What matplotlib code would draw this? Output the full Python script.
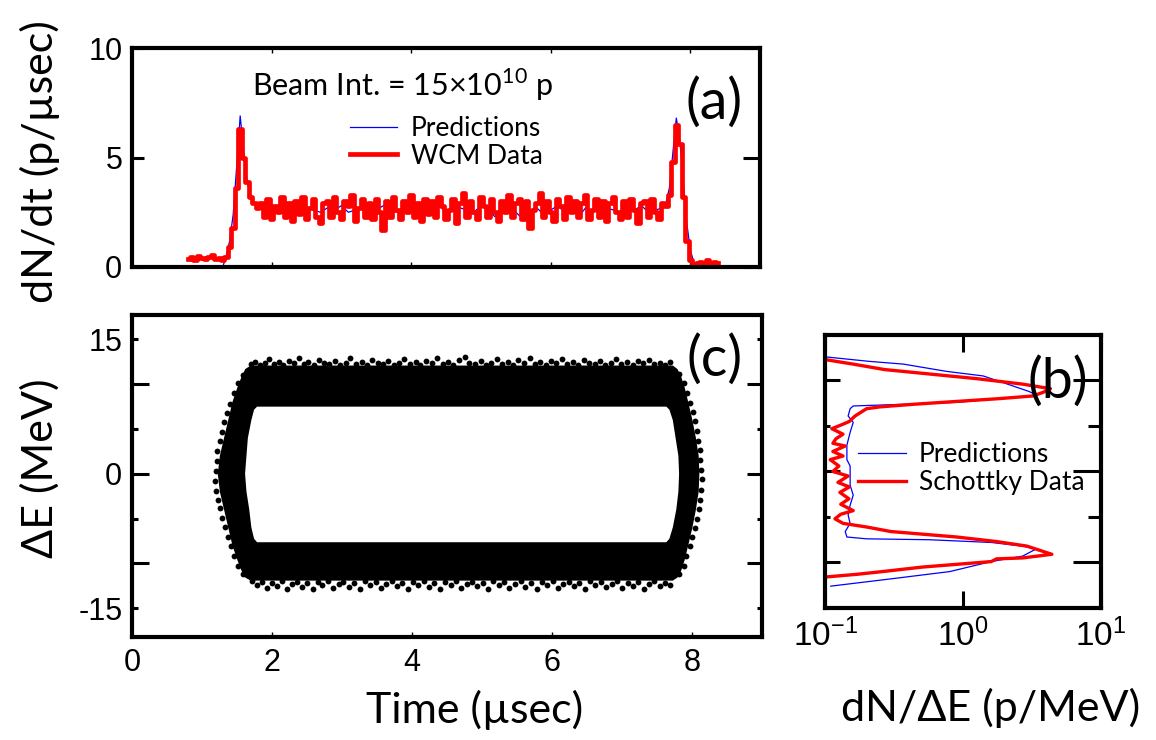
import numpy as np
import matplotlib
matplotlib.use('Agg')
import matplotlib.pyplot as plt
from matplotlib.path import Path
from matplotlib.patches import PathPatch

plt.rcParams['font.family'] = ['Liberation Sans', 'DejaVu Sans']
LBL = ['Lato', 'DejaVu Sans']

# ---- (a) line density, WCM data sampled every 0.05 usec from 0.80 usec
wcm_t0 = 0.80
wcm_dt = 0.05
wcm_rise = [0.35, 0.45, 0.30, 0.50, 0.40, 0.35, 0.45, 0.55, 0.35, 0.40, 0.30, 0.45,
            0.9, 1.8, 3.6, 6.3, 5.0, 3.9, 3.2, 2.9, 2.7]
wcm_flat = [2.9, 2.3, 3.1, 2.2, 2.8, 2.5, 3.2, 2.3, 2.9, 2.1,
            3.0, 2.4, 3.2, 2.2, 2.7, 3.1, 2.3, 2.0, 2.9, 3.0,
            2.3, 3.2, 2.5, 2.2, 3.0, 2.8, 3.3, 2.1, 2.7, 3.1,
            2.3, 2.9, 2.2, 3.1, 2.5, 1.7, 3.0, 2.3, 3.2, 2.6,
            2.2, 3.0, 2.5, 3.3, 2.3, 2.9, 2.1, 3.1, 2.4, 3.0,
            2.3, 3.2, 2.8, 2.2, 2.6, 3.1, 2.0, 2.9, 3.4, 2.3,
            3.0, 2.5, 2.2, 3.2, 2.8, 2.3, 3.1, 2.5, 2.1, 3.0,
            2.5, 3.3, 2.3, 2.9, 3.1, 2.2, 3.0, 1.8, 2.6, 2.9,
            3.4, 2.3, 3.0, 2.5, 2.1, 3.1, 2.8, 2.2, 3.2, 2.5,
            3.0, 2.3, 2.9, 3.3, 2.2, 2.6, 3.1, 2.3, 3.0, 2.1,
            2.9, 3.2, 2.5, 2.2, 3.0, 2.3, 3.1, 2.6, 2.0, 2.9,
            3.0, 2.3, 3.1, 2.5, 2.2, 2.9]
wcm_fall = [2.8, 3.3, 4.8, 6.5, 5.6, 3.2, 1.2, 0.3, 0.15, 0.2, 0.25, 0.15,
            0.3, 0.2, 0.25, 0.2]
wcm_v = np.array(wcm_rise + wcm_flat + wcm_fall)
wcm_t = wcm_t0 + wcm_dt * np.arange(len(wcm_v))

# predictions: explicit edges, plateau every 0.1 usec
pred_rise_t = [1.30, 1.35, 1.40, 1.45, 1.50, 1.55, 1.60, 1.65, 1.70, 1.75, 1.80]
pred_rise_v = [0.0, 0.5, 1.2, 2.4, 4.6, 6.9, 5.3, 3.9, 3.2, 2.9, 2.7]
pred_flat_v = [2.7, 2.6, 2.5, 2.8, 2.6, 2.4, 2.7, 2.6, 2.5, 2.7,
               2.6, 2.8, 2.5, 2.6, 2.7, 2.4, 2.6, 2.8, 2.6, 2.5,
               2.7, 2.6, 2.4, 2.7, 2.6, 2.8, 2.5, 2.6, 2.7, 2.6,
               2.5, 2.8, 2.6, 2.3, 2.7, 2.6, 2.5, 2.2, 2.6, 2.7,
               2.4, 2.6, 2.8, 2.5, 2.6, 2.3, 2.7, 2.6, 2.5, 2.7,
               2.6, 2.4, 2.7, 2.6, 2.8, 2.5, 2.6]
pred_fall_t = [7.60, 7.65, 7.70, 7.75, 7.80, 7.85, 7.90, 7.95, 8.00, 8.05, 8.10]
pred_fall_v = [2.7, 2.9, 3.6, 5.2, 6.8, 5.8, 3.9, 2.0, 0.8, 0.2, 0.0]
pred_flat_t = 1.9 + 0.1 * np.arange(len(pred_flat_v))
pred_t = np.concatenate([pred_rise_t, pred_flat_t, pred_fall_t])
pred_v = np.concatenate([pred_rise_v, pred_flat_v, pred_fall_v])

# ---- (c) longitudinal phase space, particle ring (time usec, dE MeV)
outer_t = [1.70, 7.72, 7.78, 7.83, 7.88, 7.93, 7.99, 8.04, 8.08, 8.09, 8.08, 8.04, 7.99,
           7.93, 7.88, 7.83, 7.78, 7.72, 1.70, 1.63, 1.58, 1.52, 1.45, 1.39, 1.33, 1.27,
           1.24, 1.27, 1.33, 1.39, 1.45, 1.52, 1.58, 1.63]
outer_E = [11.95, 11.95, 11.6, 10.8, 9.6, 8.0, 6.0, 4.0, 2.0, 0.0, -2.0, -4.0, -6.0,
           -8.0, -9.6, -10.8, -11.5, -11.8, -11.8, -11.5, -10.8, -9.6, -8.0, -6.0, -4.0, -2.0,
           0.0, 2.0, 4.0, 6.0, 8.0, 9.6, 10.8, 11.6]
inner_t = [1.78, 7.64, 7.69, 7.74, 7.78, 7.82, 7.83, 7.82, 7.79, 7.74, 7.69, 7.64,
           1.78, 1.73, 1.69, 1.66, 1.62, 1.60, 1.62, 1.64, 1.69, 1.73]
inner_E = [7.6, 7.6, 7.2, 6.0, 4.0, 2.0, 0.0, -2.0, -4.0, -6.0, -7.3, -7.75,
           -7.75, -7.3, -6.0, -4.0, -2.0, 0.0, 2.0, 4.0, 6.0, 7.2]
# stray particles outside the dense band
top_t = [1.70, 1.76, 1.83, 1.90, 1.96, 2.03, 2.10, 2.16, 2.24, 2.31, 2.38, 2.45, 2.52,
         2.60, 2.67, 2.74, 2.82, 2.90, 2.97, 3.05, 3.12, 3.20, 3.28, 3.35, 3.43, 3.51,
         3.58, 3.66, 3.74, 3.81, 3.89, 3.97, 4.05, 4.12, 4.20, 4.28, 4.36, 4.44, 4.51,
         4.59, 4.67, 4.75, 4.82, 4.90, 4.98, 5.06, 5.13, 5.21, 5.29, 5.37, 5.44, 5.52,
         5.60, 5.68, 5.75, 5.83, 5.91, 5.99, 6.06, 6.14, 6.22, 6.30, 6.37, 6.45, 6.53,
         6.61, 6.68, 6.76, 6.84, 6.92, 6.99, 7.07, 7.15, 7.23, 7.30, 7.38, 7.46, 7.54,
         7.61, 7.68]
top_E = [12.2, 12.5, 12.1, 12.4, 12.8, 12.2, 12.5, 12.1, 12.6, 12.3, 12.9, 12.2, 12.5,
         12.1, 12.7, 12.3, 12.2, 12.6, 12.1, 12.4, 12.9, 12.2, 12.5, 12.1, 12.7, 12.3,
         12.2, 12.6, 12.1, 12.4, 12.8, 12.2, 12.5, 12.1, 12.6, 12.3, 12.9, 12.2, 12.5,
         12.1, 12.7, 13.0, 12.3, 12.2, 12.6, 12.1, 12.4, 12.8, 12.2, 12.5, 12.1, 12.7,
         12.3, 12.9, 12.2, 12.5, 12.1, 12.6, 12.3, 12.8, 12.2, 12.5, 12.1, 12.7, 12.3,
         12.2, 12.6, 12.1, 12.4, 12.8, 12.2, 12.5, 12.1, 12.6, 12.3, 12.7, 12.2, 12.4,
         12.1, 12.5]
bot_t = [1.72, 1.79, 1.86, 1.93, 2.00, 2.07, 2.14, 2.21, 2.29, 2.36, 2.43, 2.50, 2.58,
         2.65, 2.72, 2.80, 2.87, 2.95, 3.02, 3.10, 3.17, 3.25, 3.33, 3.40, 3.48, 3.55,
         3.63, 3.71, 3.78, 3.86, 3.94, 4.01, 4.09, 4.17, 4.24, 4.32, 4.40, 4.47, 4.55,
         4.63, 4.70, 4.78, 4.86, 4.93, 5.01, 5.09, 5.16, 5.24, 5.32, 5.39, 5.47, 5.55,
         5.62, 5.70, 5.78, 5.85, 5.93, 6.01, 6.08, 6.16, 6.24, 6.31, 6.39, 6.47, 6.54,
         6.62, 6.70, 6.77, 6.85, 6.93, 7.00, 7.08, 7.16, 7.23, 7.31, 7.39, 7.46, 7.54,
         7.62, 7.69]
bot_E = [-12.0, -12.4, -12.1, -12.7, -12.2, -12.5, -12.0, -12.8, -12.3, -12.1, -12.6, -12.2, -12.9,
         -12.1, -12.4, -12.0, -12.7, -12.3, -12.1, -12.6, -12.2, -12.8, -12.0, -12.4, -12.1, -12.7,
         -12.3, -12.0, -12.5, -12.2, -12.9, -12.1, -12.4, -12.0, -12.6, -12.2, -12.8, -12.1, -12.4,
         -12.0, -12.7, -12.3, -12.1, -12.5, -12.2, -12.9, -12.0, -12.4, -12.1, -12.7, -12.3, -12.0,
         -12.6, -12.2, -12.8, -12.1, -12.4, -12.0, -12.7, -12.3, -12.1, -12.5, -12.2, -12.9, -12.0,
         -12.4, -12.1, -12.6, -12.3, -12.0, -12.7, -12.2, -12.5, -12.1, -12.8, -12.3, -12.0, -12.5,
         -12.2, -12.4]
side_t = [1.20, 1.19, 1.21, 1.20, 1.22, 1.23, 1.25, 1.26, 1.28, 1.29, 1.31, 1.33, 1.35,
          1.37, 1.40, 1.41, 1.45, 1.46, 1.51, 1.52, 1.58, 1.59,
          8.13, 8.14, 8.12, 8.13, 8.11, 8.12, 8.09, 8.10, 8.07, 8.07, 8.04, 8.04, 8.01,
          8.00, 7.97, 7.97, 7.93, 7.92, 7.88, 7.88, 7.82, 7.82]
side_E = [0.3, -0.8, 1.4, -1.9, 2.5, -2.9, 3.6, -3.8, 4.7, -4.9, 5.8, -5.9, 6.8,
          -7.0, 7.8, -8.1, 9.0, -9.2, 10.1, -10.3, 11.0, -11.2,
          0.4, -0.6, 1.5, -1.8, 2.6, -2.9, 3.7, -3.9, 4.8, -5.0, 5.9, -6.0, 6.9,
          -7.1, 7.9, -8.1, 9.0, -9.2, 10.1, -10.3, 11.1, -11.2]

# ---- (b) energy distribution (dE MeV, dN/dE p/MeV)
sch_E = [12.3, 11.8, 11.2, 10.8, 10.2, 9.6, 9.1, 8.7, 8.3, 8.0, 7.7, 7.4, 7.1, 6.9,
         6.1, 5.5, 5.2, 4.7, 4.1, 3.6, 3.1, 2.8, 2.2, 1.7, 1.3, 0.6, 0.0, -0.5, -1.2,
         -1.7, -2.3, -3.0, -3.6, -4.3, -4.7, -5.2, -5.7, -6.1, -6.6, -7.2, -7.7, -8.2,
         -9.1, -9.5, -9.6, -9.9, -10.5, -11.0, -11.3, -11.6]
sch_v = [0.10, 0.16, 0.27, 0.50, 1.26, 2.7, 4.3, 3.8, 3.2, 1.8, 0.9, 0.45, 0.25, 0.20,
         0.165, 0.15, 0.135, 0.112, 0.135, 0.12, 0.114, 0.14, 0.114, 0.135, 0.109, 0.126,
         0.114, 0.147, 0.124, 0.15, 0.128, 0.149, 0.13, 0.16, 0.13, 0.118, 0.135, 0.2,
         0.30, 0.9, 1.75, 2.9, 4.4, 2.7, 1.75, 1.6, 0.51, 0.26, 0.17, 0.10]
prd_E = [12.6, 12.1, 11.8, 11.0, 10.5, 9.6, 8.8, 8.4, 8.2, 7.6, 7.4, 7.2, 6.9, 6.1,
         5.4, 4.3, 2.9, 1.3, 0.6, -0.3, -1.5, -2.6, -3.7, -4.8, -5.7, -6.6, -7.2, -7.4,
         -7.5, -7.8, -8.2, -8.5, -9.3, -9.9, -11.0, -11.8, -12.6]
prd_v = [0.10, 0.21, 0.37, 0.76, 1.4, 2.1, 3.0, 3.4, 2.6, 0.9, 0.39, 0.16, 0.152, 0.147,
         0.16, 0.152, 0.144, 0.144, 0.152, 0.152, 0.152, 0.16, 0.152, 0.147, 0.152, 0.14,
         0.144, 0.2, 0.57, 1.6, 2.7, 3.4, 2.7, 1.6, 0.8, 0.3, 0.11]


fig = plt.figure(figsize=(11.56, 7.40), dpi=100)
ax_a = fig.add_axes([0.1142, 0.6392, 0.5433, 0.2959])
ax_c = fig.add_axes([0.1142, 0.1392, 0.5450, 0.4351])
ax_b = fig.add_axes([0.7137, 0.1784, 0.2388, 0.3689])

for ax in (ax_a, ax_b, ax_c):
    for s in ax.spines.values():
        s.set_linewidth(3.0)
    ax.tick_params(labelsize=22, direction='in')


def set_tick_lengths(axis, left, right):
    # per-tick marker sizes, ticks 1 and 2 on either spine
    for tk, l1, l2 in zip(axis.get_major_ticks(), left, right):
        tk.tick1line.set_markersize(l1)
        tk.tick2line.set_markersize(l2)


# (a)
ax_a.plot(pred_t, pred_v, color='blue', lw=0.9, label='Predictions')
ax_a.plot(wcm_t, wcm_v, color='red', lw=3.4, drawstyle='steps-mid', label='WCM Data')
ax_a.set_xlim(0, 9)
ax_a.set_ylim(0, 10)
ax_a.set_xticks([2, 4, 6, 8])
ax_a.set_xticklabels([])
ax_a.set_yticks([0, 5, 10])
ax_a.tick_params(axis='x', top=True, bottom=True, length=3.6, width=1.0)
ax_a.tick_params(axis='y', left=True, right=True, width=2.2, pad=7)
set_tick_lengths(ax_a.yaxis, [8.6, 8.6, 8.6], [12, 12, 12])
ax_a.set_ylabel('dN/dt (p/µsec)', fontsize=31, family=LBL, va='center')
ax_a.yaxis.set_label_coords(-0.1465, 0.479)
ax_a.text(0.43, 0.83, r'Beam Int. = 15×10$^{\mathregular{10}}$ p', transform=ax_a.transAxes,
          fontsize=22, family=LBL, ha='center', va='center')
ax_a.text(0.927, 0.75, '(a)', transform=ax_a.transAxes, fontsize=40, family=LBL,
          ha='center', va='center')
ax_a.legend(loc='upper left', bbox_to_anchor=(0.347, 0.69), frameon=False,
            prop={'family': LBL, 'size': 19}, handlelength=1.8, handletextpad=0.5,
            labelspacing=0.1, borderpad=0, borderaxespad=0)

# (c)
ring = Path(np.concatenate([np.column_stack([outer_t + outer_t[:1], outer_E + outer_E[:1]]),
                            np.column_stack([inner_t[::-1] + inner_t[-1:], inner_E[::-1] + inner_E[-1:]])]),
            [Path.MOVETO] + [Path.LINETO] * (len(outer_t) - 1) + [Path.CLOSEPOLY] +
            [Path.MOVETO] + [Path.LINETO] * (len(inner_t) - 1) + [Path.CLOSEPOLY])
ax_c.add_patch(PathPatch(ring, facecolor='black', edgecolor='black', lw=1.5))
for xs, ys in ((top_t, top_E), (bot_t, bot_E), (side_t, side_E)):
    ax_c.plot(xs, ys, 'o', color='black', ms=4.2, mew=0)
ax_c.set_xlim(0, 9)
ax_c.set_ylim(-18.2, 17.7)
ax_c.set_xticks([0, 2, 4, 6, 8])
ax_c.set_yticks([-15, -10, -5, 0, 5, 10, 15])
ax_c.set_yticklabels(['-15', '', '', '0', '', '', '15'])
ax_c.tick_params(axis='x', top=False, bottom=True, length=3.6, width=1.0, pad=8)
ax_c.tick_params(axis='y', left=True, right=True, width=2.2, pad=7)
set_tick_lengths(ax_c.yaxis, [4.3, 12, 4.3, 12, 4.3, 12, 4.3], [3.6, 11, 3.6, 11, 3.6, 11, 3.6])
ax_c.set_ylabel('ΔE (MeV)', fontsize=31, family=LBL, va='center')
ax_c.yaxis.set_label_coords(-0.146, 0.525)
ax_c.set_xlabel('Time (µsec)', fontsize=31, family=LBL, va='center')
ax_c.xaxis.set_label_coords(0.544, -0.225)
ax_c.text(0.925, 0.86, '(c)', transform=ax_c.transAxes, fontsize=40, family=LBL,
          ha='center', va='center')

# (b)
ax_b.plot(prd_v, prd_E, color='blue', lw=0.9, label='Predictions')
ax_b.plot(sch_v, sch_E, color='red', lw=2.4, label='Schottky Data')
ax_b.set_xscale('log')
ax_b.set_xlim(0.1, 10)
ax_b.set_ylim(-15, 15)
ax_b.set_xticks([0.1, 1, 10])
ax_b.set_xticklabels([r'$\mathregular{10^{-1}}$', r'$\mathregular{10^{0}}$', r'$\mathregular{10^{1}}$'])
ax_b.minorticks_off()
ax_b.set_yticks([-10, -5, 0, 5, 10])
ax_b.set_yticklabels([])
ax_b.tick_params(axis='x', top=True, bottom=True, length=12, width=2.2, pad=8, labelsize=24)
ax_b.tick_params(axis='y', left=True, right=True, width=2.2)
set_tick_lengths(ax_b.yaxis, [11, 3.6, 11, 3.6, 11], [20, 9.4, 20, 9.4, 20])
ax_b.set_xlabel('dN/ΔE (p/MeV)', fontsize=31, family=LBL, va='center')
ax_b.xaxis.set_label_coords(0.598, -0.365)
ax_b.text(0.845, 0.83, '(b)', transform=ax_b.transAxes, fontsize=40, family=LBL,
          ha='center', va='center')
ax_b.legend(loc='upper left', bbox_to_anchor=(0.12, 0.607), frameon=False,
            prop={'family': LBL, 'size': 19}, handlelength=1.8, handletextpad=0.5,
            labelspacing=0.1, borderpad=0, borderaxespad=0)

fig.savefig('out.png', dpi=100)
